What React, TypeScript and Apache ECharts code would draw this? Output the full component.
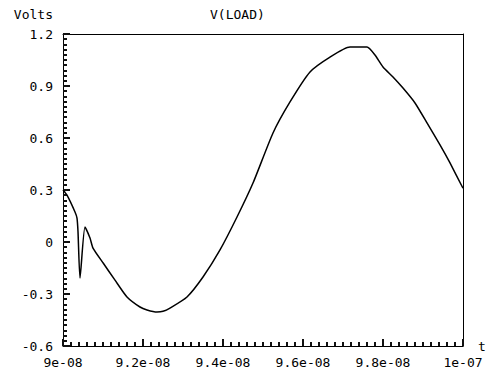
import React, { useEffect, useRef } from "react";
import * as echarts from "echarts";

// time in nanoseconds (axis labels show seconds)
const tNs = [
  90.0, 90.1, 90.3, 90.35, 90.375, 90.425, 90.55, 90.675, 90.75, 91.0, 91.3, 91.6, 91.925,
  92.1, 92.35, 92.5, 92.675, 93.1, 93.5, 93.925, 94.35, 94.75, 95.25, 95.675, 96.175,
  96.675, 97.175, 97.6, 97.8, 98.0, 98.25, 98.5, 98.8, 99.1, 99.425, 99.675, 100.0,
];
const volts = [
  0.3, 0.27, 0.173, 0.138, 0.06, -0.208, 0.087, 0.023, -0.035, -0.12, -0.22, -0.317, -0.375,
  -0.392, -0.404, -0.4, -0.381, -0.317, -0.202, -0.046, 0.144, 0.34, 0.629, 0.808, 0.981,
  1.067, 1.125, 1.125, 1.079, 1.01, 0.952, 0.888, 0.802, 0.687, 0.56, 0.456, 0.31,
];
const xTickLabels = ["9e-08", "9.2e-08", "9.4e-08", "9.6e-08", "9.8e-08", "1e-07"];
const yTickLabels = ["-0.6", "-0.3", "0", "0.3", "0.6", "0.9", "1.2"];

const FONT = "DejaVu Sans Mono";

export default function App() {
  const ref = useRef<HTMLDivElement>(null);
  useEffect(() => {
    if (!ref.current) return;
    const chart = echarts.init(ref.current, undefined, { renderer: "svg" });
    const data = tNs.map((t, i) => [t, volts[i]]);
    chart.setOption({
      animation: false,
      title: {
        text: "V(LOAD)",
        left: 205,
        top: 3,
        textStyle: { fontFamily: FONT, fontSize: 13, fontWeight: "normal", color: "#000" },
      },
      grid: { left: 63, right: 33, top: 34, bottom: 30 },
      xAxis: [
        {
          type: "value",
          min: 90,
          max: 100,
          interval: 2,
          name: "t",
          nameLocation: "end",
          nameGap: 15,
          nameTextStyle: { fontFamily: FONT, fontSize: 13, color: "#000", padding: [12, 0, 0, 0] },
          axisLine: { show: true, onZero: false, lineStyle: { color: "#000" } },
          axisTick: { show: true, inside: true, length: 7, lineStyle: { color: "#111", width: 2 } },
          minorTick: { show: true, splitNumber: 10, length: 4, lineStyle: { color: "#111", width: 2 } },
          splitLine: { show: false },
          axisLabel: {
            margin: 10,
            fontFamily: FONT,
            fontSize: 13,
            color: "#000",
            formatter: (v: number) => xTickLabels[Math.round((v - 90) / 2)] ?? "",
          },
        },
        {
          type: "value",
          position: "top",
          min: 90,
          max: 100,
          axisLine: { show: true, onZero: false, lineStyle: { color: "#000" } },
          axisTick: { show: false },
          axisLabel: { show: false },
          splitLine: { show: false },
        },
      ],
      yAxis: [
        {
          type: "value",
          min: -0.6,
          max: 1.2,
          interval: 0.3,
          name: "Volts",
          nameLocation: "end",
          nameGap: 13,
          nameTextStyle: { fontFamily: FONT, fontSize: 13, color: "#000", align: "right", padding: [0, 10, 0, 0] },
          axisLine: { show: true, onZero: false, lineStyle: { color: "#000" } },
          axisTick: { show: true, inside: true, length: 7, lineStyle: { color: "#111", width: 2 } },
          minorTick: { show: true, splitNumber: 10, length: 4, lineStyle: { color: "#111", width: 2 } },
          splitLine: { show: false },
          axisLabel: {
            margin: 10,
            fontFamily: FONT,
            fontSize: 13,
            color: "#000",
            formatter: (v: number) => yTickLabels[Math.round((v + 0.6) / 0.3)] ?? "",
          },
        },
        {
          type: "value",
          position: "right",
          min: -0.6,
          max: 1.2,
          axisLine: { show: true, onZero: false, lineStyle: { color: "#000" } },
          axisTick: { show: false },
          axisLabel: { show: false },
          splitLine: { show: false },
        },
      ],
      series: [
        {
          type: "line",
          xAxisIndex: 0,
          yAxisIndex: 0,
          data,
          showSymbol: false,
          smooth: 0.2,
          lineStyle: { color: "#000", width: 1.5 },
        },
      ],
    });
    return () => chart.dispose();
  }, []);
  return <div ref={ref} style={{ position: "absolute", left: 0, top: 0, width: 496, height: 376 }} />;
}
